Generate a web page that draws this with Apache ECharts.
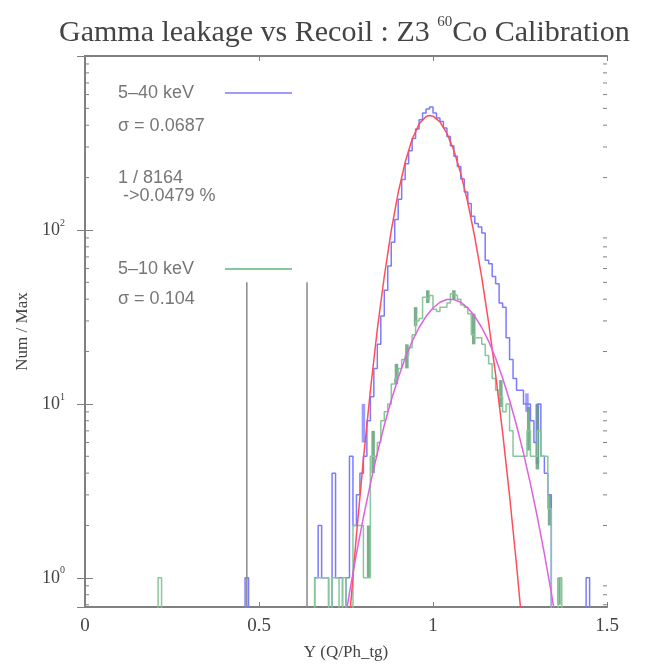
<!DOCTYPE html>
<html>
<head>
<meta charset="utf-8">
<title>Gamma leakage vs Recoil</title>
<script src="https://cdn.jsdelivr.net/npm/echarts@6.0.0/dist/echarts.min.js"></script>
<style>
  html, body { margin: 0; padding: 0; background: #fff; }
  #chart { width: 652px; height: 664px; }
</style>
</head>
<body>
<div id="chart"></div>
<script>
// Histogram bins (left edge = start + i * binWidth).
const binWidth = 0.01;
const blueStart = 0.66;
const blueCounts = [
    1, 2, 1, 1, 0, 4, 1, 1, 0, 1,
    5, 2, 3, 4, 5, 8, 11, 16, 22, 32,
    45, 62, 85, 115, 150, 195, 240, 285, 335, 380,
    430, 470, 495, 509, 470, 440, 420, 385, 345, 305,
    265, 232, 196, 165, 142, 120, 109, 104, 96, 67,
    64, 54, 49, 38, 36, 24, 18, 14, 12, 12,
    10, 10, 8, 6, 10, 5, 4, 3
];
const blueOutliers = [[0.46, 1], [1.44, 1]];

const greenStart = 0.66;
const greenCounts = [
    1, 1, 1, 1, 0, 1, 1, 0, 1, 0,
    0, 2, 2, 2, 1, 1, 5, 5, 6, 8,
    9, 10, 13, 14, 16, 18, 19, 21, 25, 30,
    31, 41, 40, 42, 35, 34, 36, 36, 38, 43,
    42, 40, 37, 36, 33, 25, 24, 24, 22, 19,
    17, 14, 12, 11, 9, 10, 7, 5, 5, 5,
    5, 7, 5, 5, 7, 5, 5, 2.5
];
const greenOutliers = [[0.21, 1], [1.36, 1]];

// Error bars: [x, low, high]
const greenErrors = [
    [0.815, 1, 2], [0.828, 4, 7], [0.895, 13, 17], [0.925, 16, 22],
    [0.95, 28, 36], [0.985, 38, 45], [1.06, 40, 45], [1.117, 22, 33],
    [1.195, 9.6, 13.7], [1.275, 5.4, 9.6], [1.30, 4.2, 10], [1.335, 2, 3],
    [1.362, 0.7, 1]
];
const blueErrors = [[0.80, 6, 10], [1.27, 9, 11.5], [1.30, 4.5, 10]];

// Gaussian fits.
const redFitX = [0.74, 0.76, 0.78, 0.80, 0.82, 0.84, 0.86, 0.88, 0.90, 0.92, 0.94, 0.96, 0.98, 0.99,
    1.00, 1.02, 1.04, 1.06, 1.08, 1.10, 1.12, 1.14, 1.16, 1.18, 1.20, 1.22, 1.24, 1.26];
const redFitY = [0.17, 0.58, 1.76, 4.8, 11.9, 26.8, 54, 99, 164, 245, 332, 406, 449, 455,
    451, 418, 359, 286, 210, 144, 91, 53.6, 29.1, 14.7, 6.86, 2.97, 1.19, 0.44];

const magentaFitX = [0.74, 0.76, 0.78, 0.80, 0.82, 0.84, 0.86, 0.88, 0.90, 0.92, 0.94, 0.96, 0.98,
    1.00, 1.02, 1.04, 1.06, 1.08, 1.10, 1.12, 1.14, 1.16, 1.18, 1.20, 1.22, 1.24, 1.26, 1.28,
    1.30, 1.32, 1.34, 1.36];
const magentaFitY = [0.47, 0.82, 1.38, 2.23, 3.47, 5.21, 7.54, 10.5, 14.1, 18.3, 22.9, 27.5, 31.9,
    35.6, 38.4, 39.8, 39.8, 38.4, 35.6, 31.9, 27.5, 22.9, 18.3, 14.1, 10.5, 7.54, 5.21, 3.47,
    2.23, 1.38, 0.82, 0.47];

// Cut lines.
const cutX = [0.465, 0.638];
const cutTop = 50;

const xTicks = [0, 0.5, 1, 1.5];
const yMin = 0.68;
const yMax = 1000;
const minorTicks = [0.7, 0.8, 0.9, 2, 3, 4, 5, 6, 7, 8, 9, 20, 30, 40, 50, 60, 70, 80, 90,
    200, 300, 400, 500, 600, 700, 800, 900];

const FLOOR = 0.3; // below the axis, clipped away

const stepPoints = (start, counts, outliers) => {
    const bins = counts.map((c, i) => [start + i * binWidth, c]);
    outliers.forEach(o => bins.push(o));
    bins.sort((a, b) => a[0] - b[0]);
    const pts = [[bins[0][0], FLOOR]];
    bins.forEach(([x0, c]) => {
        const v = c > 0 ? c : FLOOR;
        const x1 = +(x0 + binWidth).toFixed(4);
        const last = pts[pts.length - 1];
        if (Math.abs(last[0] - x0) > 1e-6) {
            pts.push([last[0], FLOOR], [x0, FLOOR]);
        }
        pts.push([x0, v], [x1, v]);
    });
    pts.push([pts[pts.length - 1][0], FLOOR]);
    return pts;
};

const errorSeries = (errors, color, width) => ({
    type: 'custom',
    silent: true,
    clip: true,
    data: errors,
    renderItem: (params, api) => {
        const p0 = api.coord([api.value(0), api.value(1)]);
        const p1 = api.coord([api.value(0), api.value(2)]);
        return {
            type: 'line',
            shape: {x1: p0[0], y1: p0[1], x2: p1[0], y2: p1[1]},
            style: {stroke: color, lineWidth: width}
        };
    }
});

const lineSeries = (data, color, width) => ({
    type: 'line',
    data: data,
    symbol: 'none',
    silent: true,
    clip: true,
    lineStyle: {color: color, width: width}
});

const serif = '"Liberation Serif", "DejaVu Serif", serif';
const sans = '"Liberation Sans", Arial, sans-serif';
const axisColor = '#808080';
const noteColor = '#777';

const yLabel = (v) => {
    const e = Math.round(Math.log10(v));
    if (e < 0 || e > 2 || Math.abs(v - Math.pow(10, e)) > 1e-6 * v) {
        return '';
    }
    return '{b|10}{s|' + e + '}';
};

const note = (x, y, text) => ({
    type: 'text', x: x, y: y,
    style: {text: text, font: '18px ' + sans, fill: noteColor, verticalAlign: 'middle'}
});

const chart = echarts.init(document.getElementById('chart'));

chart.setOption({
    animation: false,
    backgroundColor: '#fff',
    title: {
        text: '{a|Gamma leakage vs Recoil : Z3 }{s|60}{a|Co Calibration}',
        left: 54,
        top: 10,
        textStyle: {
            rich: {
                a: {fontFamily: serif, fontSize: 30, fontWeight: 'normal', color: '#444', lineHeight: 36},
                s: {fontFamily: serif, fontSize: 15, fontWeight: 'normal', color: '#444', verticalAlign: 'top', lineHeight: 36}
            }
        }
    },
    grid: {left: 85, right: 45, top: 56, bottom: 57, outerBoundsMode: 'none'},
    xAxis: [{
        type: 'value',
        min: 0,
        max: 1.5,
        interval: 0.5,
        name: 'Y (Q/Ph_tg)',
        nameLocation: 'middle',
        nameGap: 37,
        nameTextStyle: {fontFamily: serif, fontSize: 17, color: '#444'},
        axisLine: {lineStyle: {color: axisColor, width: 2}},
        axisTick: {inside: true, length: 5, lineStyle: {color: axisColor}},
        axisLabel: {
            fontFamily: serif, fontSize: 19, color: '#444', margin: 10,
            formatter: (v) => xTicks.includes(v) ? String(v) : ''
        },
        splitLine: {show: false}
    }, {
        type: 'value',
        position: 'top',
        min: 0,
        max: 1.5,
        interval: 0.5,
        axisLine: {show: true, lineStyle: {color: axisColor, width: 2}},
        axisTick: {inside: true, length: 5, lineStyle: {color: axisColor}},
        axisLabel: {show: false},
        splitLine: {show: false}
    }],
    yAxis: [{
        type: 'log',
        logBase: 10,
        min: yMin,
        max: yMax,
        name: 'Num / Max',
        nameLocation: 'middle',
        nameGap: 50,
        nameTextStyle: {fontFamily: serif, fontSize: 17, color: '#444'},
        axisLine: {show: true, lineStyle: {color: axisColor, width: 2}},
        axisTick: {inside: true, length: 8, lineStyle: {color: axisColor}},
        axisLabel: {
            margin: 20,
            formatter: yLabel,
            rich: {
                b: {fontFamily: serif, fontSize: 18, color: '#444', lineHeight: 24},
                s: {fontFamily: serif, fontSize: 10, color: '#444', verticalAlign: 'top', lineHeight: 24}
            }
        },
        splitLine: {show: false}
    }, {
        type: 'log',
        logBase: 10,
        position: 'right',
        min: yMin,
        max: yMax,
        axisLine: {show: true, lineStyle: {color: axisColor, width: 2}},
        axisTick: {inside: true, length: 8, lineStyle: {color: axisColor}},
        axisLabel: {show: false},
        splitLine: {show: false}
    }],
    graphic: [
        note(118, 93, '5\u201340 keV'),
        {type: 'line', shape: {x1: 225, y1: 93, x2: 292, y2: 93}, style: {stroke: '#7b7bff', lineWidth: 1.5}},
        note(118, 126, '\u03c3 = 0.0687'),
        note(118, 178, '1 / 8164'),
        note(118, 196, ' ->0.0479 %'),
        note(118, 269, '5\u201310 keV'),
        {type: 'line', shape: {x1: 225, y1: 269, x2: 292, y2: 269}, style: {stroke: '#86c79b', lineWidth: 2}},
        note(118, 299, '\u03c3 = 0.104')
    ],
    series: [
        // minor log ticks on both vertical axes
        {
            type: 'custom',
            silent: true,
            data: minorTicks,
            renderItem: (params, api) => {
                const l = api.coord([0, api.value(0)]);
                const r = api.coord([1.5, api.value(0)]);
                return {
                    type: 'group',
                    children: [
                        {type: 'line', shape: {x1: l[0], y1: l[1], x2: l[0] + 4, y2: l[1]}, style: {stroke: axisColor, lineWidth: 1}},
                        {type: 'line', shape: {x1: r[0], y1: r[1], x2: r[0] - 4, y2: r[1]}, style: {stroke: axisColor, lineWidth: 1}}
                    ]
                };
            },
            encode: {y: 0}
        },
        lineSeries(stepPoints(blueStart, blueCounts, blueOutliers), '#7b7bff', 1.5),
        lineSeries(stepPoints(greenStart, greenCounts, greenOutliers), '#86c79b', 1.5),
        errorSeries(blueErrors, 'rgba(123,123,255,0.75)', 3.5),
        errorSeries(greenErrors, 'rgba(100,160,120,0.85)', 3.5),
        lineSeries(redFitX.map((x, i) => [x, redFitY[i]]), '#ff4d5a', 1.5),
        lineSeries(magentaFitX.map((x, i) => [x, magentaFitY[i]]), '#e060e0', 1.5),
        ...cutX.map(x => lineSeries([[x, FLOOR], [x, cutTop]], '#888', 1.5))
    ]
});
</script>
</body>
</html>
